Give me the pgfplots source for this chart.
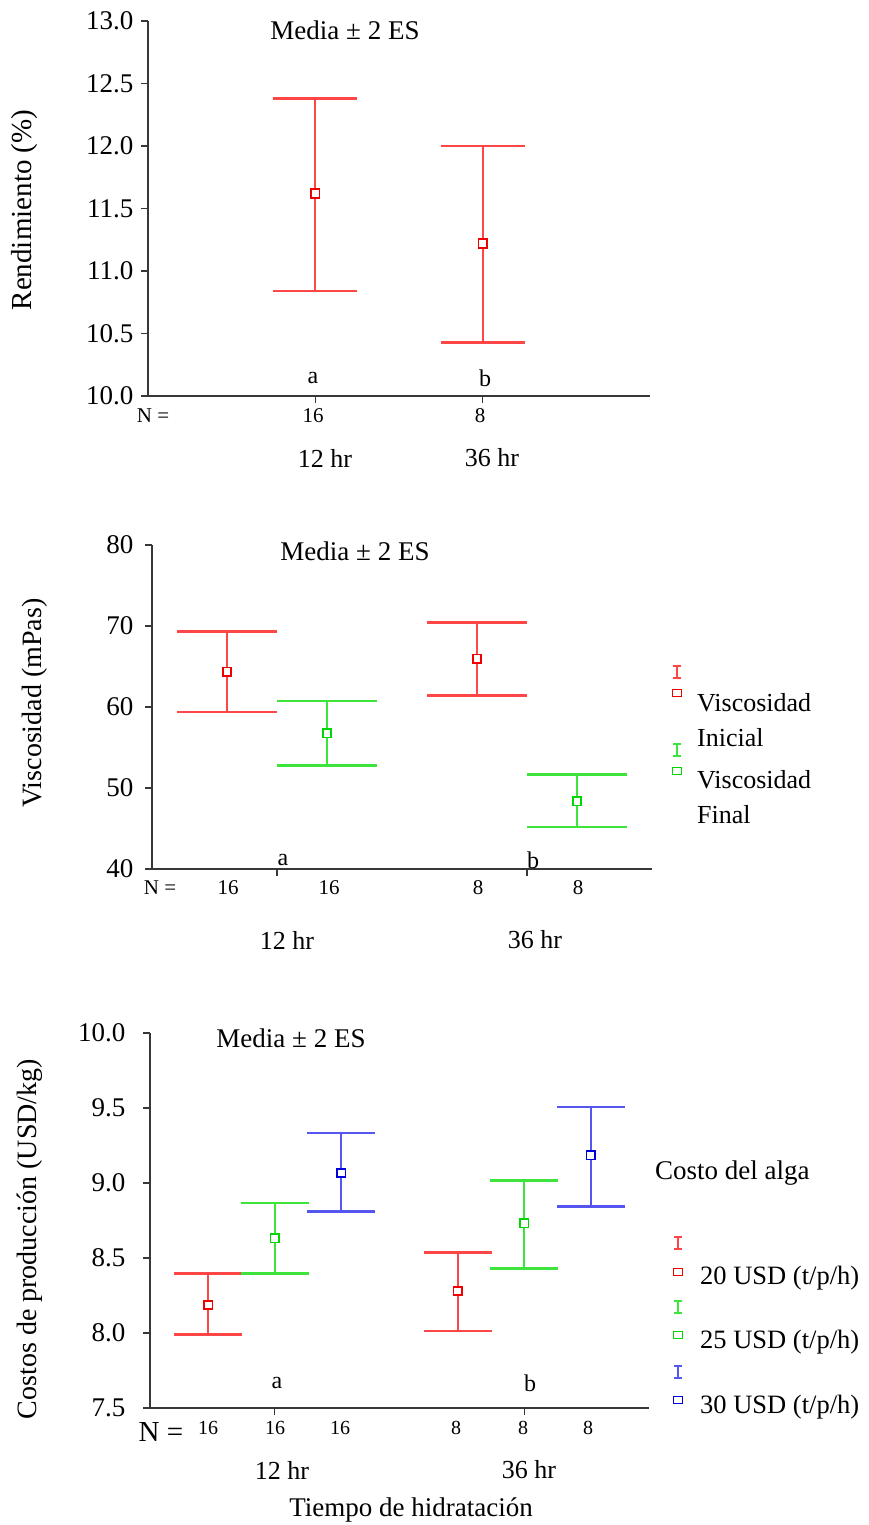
\documentclass[border=0pt]{standalone}
\usepackage{fontspec}
\setmainfont{Liberation Serif}
\usepackage{pgfplots}
\pgfplotsset{compat=1.18}
\definecolor{lred}{RGB}{255,70,70}
\definecolor{lgreen}{RGB}{60,228,60}
\definecolor{lblue}{RGB}{85,85,240}
\definecolor{mred}{RGB}{240,0,0}
\definecolor{mgreen}{RGB}{0,215,0}
\definecolor{mblue}{RGB}{0,0,220}
\definecolor{axc}{RGB}{55,55,55}
\newcommand\fs[1]{\fontsize{#1}{#1}\selectfont}
\pgfplotsset{
  panel/.style={
    scale only axis, anchor=south west,
    axis x line*=bottom, axis y line*=left,
    axis line style={-, line width=1.6pt, color=axc},
    tick style={line width=1.4pt, color=axc},
    tick align=outside, major tick length=7pt,
    xticklabels={},
    enlargelimits=false,
    yticklabel style={font=\fs{27}, /pgf/number format/assume math mode=true},
    clip=false,
  },
  ebar/.style n args={2}{only marks, mark=none, forget plot,
    error bars/y dir=both, error bars/y explicit,
    error bars/error mark=|,
    error bars/error bar style={line width=1.8pt, color=#1},
    error bars/error mark options={line width=2.6pt, mark size=#2, color=#1}},
  mk/.style={only marks, color=#1, mark=square*, mark size=4.3pt,
    mark options={draw=#1, fill=white, line width=1.7pt}},
}
\newcommand\legI[3]{\draw[#1, line width=1.5pt, shift={(#2pt,#3pt)}] (0,-6pt)--(0,6pt) (-4pt,6pt)--(4pt,6pt) (-4pt,-6pt)--(4pt,-6pt);}
\newcommand\legS[3]{\draw[#1, line width=1.5pt, shift={(#2pt,#3pt)}] (-4.5pt,-3.5pt) rectangle (4.5pt,3.5pt);}
\begin{document}
\begin{tikzpicture}
\useasboundingbox (0,0) rectangle (869pt,-1525pt);
% ---------------- Panel 1
\begin{axis}[panel, at={(148pt,-396pt)}, width=502pt, height=375pt,
  xmin=0, xmax=3, ymin=10, ymax=13, xtick={1,2},
  ytick={10,10.5,11,11.5,12,12.5,13},
  y tick label style={xshift=-4pt, /pgf/number format/.cd, fixed, fixed zerofill, precision=1, /tikz/.cd}]
\addplot[ebar={lred}{42pt}] coordinates {
  (1,11.62) +=(0,0.76) -=(0,0.78)
  (2,11.22) +=(0,0.78) -=(0,0.79)
};
\addplot[mk=mred] coordinates {(1,11.62) (2,11.22)};
\end{axis}
\node[font=\fs{27}] at (345pt,-30pt) {Media ± 2 ES};
\node[font=\fs{24}] at (313pt,-378pt) {a};
\node[font=\fs{24}] at (485pt,-378pt) {b};
\node[font=\fs{21}] at (153pt,-416pt) {N =};
\node[font=\fs{21}] at (313pt,-416pt) {16};
\node[font=\fs{21}] at (480pt,-416pt) {8};
\node[font=\fs{26}] at (325pt,-458pt) {12 hr};
\node[font=\fs{26}] at (492pt,-458pt) {36 hr};
\node[font=\fs{29}, rotate=90] at (25pt,-210pt) {Rendimiento (\%)};
% ---------------- Panel 2
\begin{axis}[panel, at={(152pt,-869pt)}, width=500pt, height=324pt,
  xmin=0, xmax=5, ymin=40, ymax=80, xtick={1.25,3.75},
  ytick={40,50,60,70,80}, y tick label style={xshift=-8pt}]
\addplot[ebar={lred}{50pt}] coordinates {
  (0.75,64.33) +=(0,5.00) -=(0,4.97)
  (3.25,65.97) +=(0,4.43) -=(0,4.52)
};
\addplot[ebar={lgreen}{50pt}] coordinates {
  (1.75,56.77) +=(0,3.95) -=(0,3.97)
  (4.25,48.37) +=(0,3.28) -=(0,3.17)
};
\addplot[mk=mred] coordinates {(0.75,64.33) (3.25,65.97)};
\addplot[mk=mgreen] coordinates {(1.75,56.77) (4.25,48.37)};
\end{axis}
\node[font=\fs{27}] at (355pt,-551pt) {Media ± 2 ES};
\node[font=\fs{24}] at (283pt,-860pt) {a};
\node[font=\fs{24}] at (533pt,-860pt) {b};
\node[font=\fs{21}] at (160pt,-888pt) {N =};
\node[font=\fs{21}] at (228pt,-888pt) {16};
\node[font=\fs{21}] at (329pt,-888pt) {16};
\node[font=\fs{21}] at (478pt,-888pt) {8};
\node[font=\fs{21}] at (578pt,-888pt) {8};
\node[font=\fs{26}] at (287pt,-940pt) {12 hr};
\node[font=\fs{26}] at (535pt,-940pt) {36 hr};
\node[font=\fs{28}, rotate=90] at (35pt,-703pt) {Viscosidad (mPas)};
\legI{lred}{677}{-672}
\legS{mred}{677}{-693}
\node[font=\fs{26}, anchor=west, inner sep=0pt] at (697pt,-703pt) {Viscosidad};
\node[font=\fs{26}, anchor=west, inner sep=0pt] at (697pt,-738pt) {Inicial};
\legI{lgreen}{677}{-750}
\legS{mgreen}{677}{-771}
\node[font=\fs{26}, anchor=west, inner sep=0pt] at (697pt,-780pt) {Viscosidad};
\node[font=\fs{26}, anchor=west, inner sep=0pt] at (697pt,-815pt) {Final};
% ---------------- Panel 3
\begin{axis}[panel, at={(150pt,-1408pt)}, width=499pt, height=375pt,
  xmin=0, xmax=7.5, ymin=7.5, ymax=10, xtick={1.875,5.625},
  ytick={7.5,8,8.5,9,9.5,10},
  y tick label style={xshift=-14pt, /pgf/number format/.cd, fixed, fixed zerofill, precision=1, /tikz/.cd}]
\addplot[ebar={lred}{34pt}] coordinates {
  (0.875,8.187) +=(0,0.209) -=(0,0.196)
  (4.625,8.280) +=(0,0.256) -=(0,0.267)
};
\addplot[ebar={lgreen}{34pt}] coordinates {
  (1.875,8.633) +=(0,0.234) -=(0,0.237)
  (5.625,8.733) +=(0,0.285) -=(0,0.304)
};
\addplot[ebar={lblue}{34pt}] coordinates {
  (2.875,9.067) +=(0,0.266) -=(0,0.256)
  (6.625,9.185) +=(0,0.322) -=(0,0.340)
};
\addplot[mk=mred] coordinates {(0.875,8.187) (4.625,8.280)};
\addplot[mk=mgreen] coordinates {(1.875,8.633) (5.625,8.733)};
\addplot[mk=mblue] coordinates {(2.875,9.067) (6.625,9.185)};
\end{axis}
\node[font=\fs{27}] at (291pt,-1038pt) {Media ± 2 ES};
\node[font=\fs{24}] at (277pt,-1383pt) {a};
\node[font=\fs{24}] at (530pt,-1383pt) {b};
\node[font=\fs{29}] at (161pt,-1432pt) {N =};
\node[font=\fs{20}] at (208pt,-1428pt) {16};
\node[font=\fs{20}] at (275pt,-1428pt) {16};
\node[font=\fs{20}] at (340pt,-1428pt) {16};
\node[font=\fs{20}] at (456pt,-1428pt) {8};
\node[font=\fs{20}] at (523pt,-1428pt) {8};
\node[font=\fs{20}] at (588pt,-1428pt) {8};
\node[font=\fs{26}] at (282pt,-1470pt) {12 hr};
\node[font=\fs{26}] at (529pt,-1470pt) {36 hr};
\node[font=\fs{27}] at (411pt,-1510pt) {Tiempo de hidratación};
\node[font=\fs{28}, rotate=90] at (30pt,-1239pt) {Costos de producción (USD/kg)};
\node[font=\fs{27}, anchor=west, inner sep=0pt] at (655pt,-1173pt) {Costo del alga};
\legI{lred}{678}{-1243}
\legS{mred}{678}{-1272}
\node[font=\fs{26.5}, anchor=west, inner sep=0pt] at (700pt,-1278pt) {20 USD (t/p/h)};
\legI{lgreen}{678}{-1307}
\legS{mgreen}{678}{-1335}
\node[font=\fs{26.5}, anchor=west, inner sep=0pt] at (700pt,-1342pt) {25 USD (t/p/h)};
\legI{lblue}{678}{-1372}
\legS{mblue}{678}{-1400}
\node[font=\fs{26.5}, anchor=west, inner sep=0pt] at (700pt,-1407pt) {30 USD (t/p/h)};
\end{tikzpicture}
\end{document}
